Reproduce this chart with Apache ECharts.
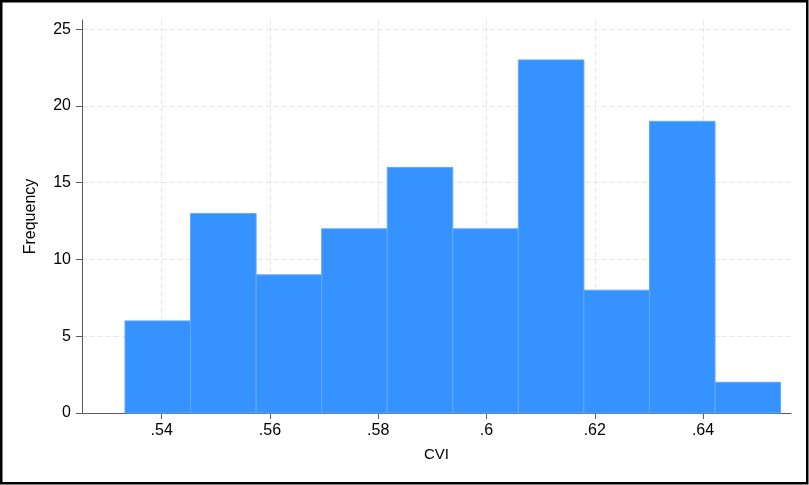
<!DOCTYPE html>
<html>
<head>
<meta charset="utf-8">
<script src="https://cdn.jsdelivr.net/npm/echarts@6/dist/echarts.min.js"></script>
<style>
  html, body { margin: 0; padding: 0; background: #fff; }
  #chart { width: 809px; height: 485px; }
</style>
</head>
<body>
<div id="chart"></div>
<script>
// Histogram of CVI: bin layout and counts
const binStart = 0.53322;
const binWidth = 0.012111;
const frequencies = [6, 13, 9, 12, 16, 12, 23, 8, 19, 2];
const xTicks = [0.54, 0.56, 0.58, 0.60, 0.62, 0.64];
const yTicks = [0, 5, 10, 15, 20, 25];

const bins = frequencies.map((f, i) => [binStart + i * binWidth, binStart + (i + 1) * binWidth, f]);

const chart = echarts.init(document.getElementById('chart'), null, { renderer: 'canvas' });

const gridLine = { show: true, lineStyle: { color: '#e6e6e6', width: 1, type: [5, 3] } };
const axisColor = '#5a5a5a';
const font = 'Liberation Sans, Arial, Helvetica, sans-serif';

chart.setOption({
  animation: false,
  backgroundColor: '#fff',
  grid: { left: 82, right: 18, top: 20, bottom: 72, containLabel: false },
  xAxis: {
    type: 'value',
    min: 0.52528,
    max: 0.65625,
    name: 'CVI',
    nameLocation: 'middle',
    nameGap: 34,
    nameTextStyle: { color: '#000', fontSize: 15, fontFamily: font },
    axisLine: { show: true, onZero: false, lineStyle: { color: axisColor, width: 1 } },
    axisTick: { show: true, length: 6, lineStyle: { color: axisColor }, customValues: xTicks },
    axisLabel: {
      color: '#000', fontSize: 16, fontFamily: font, margin: 10,
      customValues: xTicks,
      formatter: v => String(+v.toFixed(2)).replace(/^0/, '')
    },
    splitLine: gridLine
  },
  yAxis: {
    type: 'value',
    min: 0,
    max: 25.6,
    name: 'Frequency',
    nameLocation: 'middle',
    nameGap: 43,
    nameRotate: 90,
    nameTextStyle: { color: '#000', fontSize: 16, fontFamily: font },
    axisLine: { show: true, lineStyle: { color: axisColor, width: 1 } },
    axisTick: { show: true, length: 6, lineStyle: { color: axisColor }, customValues: yTicks },
    axisLabel: { color: '#000', fontSize: 16, fontFamily: font, margin: 11, customValues: yTicks },
    splitLine: gridLine
  },
  graphic: [{
    type: 'rect',
    silent: true,
    z: 100,
    shape: { x: 1.25, y: 1.25, width: 806, height: 482 },
    style: { fill: 'none', stroke: '#000', lineWidth: 2.5 }
  }],
  series: [{
    type: 'custom',
    data: bins,
    encode: { x: [0, 1], y: 2 },
    renderItem: (params, api) => {
      const p0 = api.coord([api.value(0), 0]);
      const p1 = api.coord([api.value(1), api.value(2)]);
      return {
        type: 'rect',
        shape: { x: p0[0], y: p1[1], width: p1[0] - p0[0], height: p0[1] - p1[1] },
        style: { fill: '#3592ff', stroke: '#62a9ff', lineWidth: 1 }
      };
    }
  }]
});
</script>
</body>
</html>
